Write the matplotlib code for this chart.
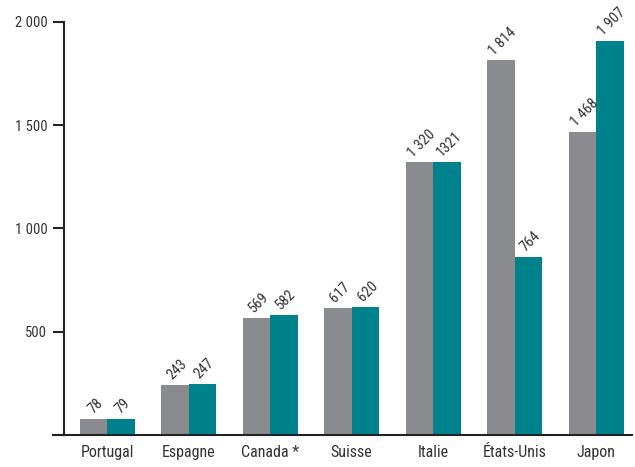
import matplotlib
matplotlib.use("Agg")
import matplotlib.pyplot as plt
from matplotlib import font_manager as fm
import numpy as np

categories = ["Portugal", "Espagne", "Canada *", "Suisse", "Italie", "États-Unis", "Japon"]
values_grey = [78, 243, 569, 617, 1320, 1814, 1468]
values_teal = [79, 247, 582, 620, 1321, 863, 1907]
labels_grey = ["78", "243", "569", "617", "1 320", "1 814", "1 468"]
labels_teal = ["79", "247", "582", "620", "1321", "764", "1 907"]
yticks = [0, 500, 1000, 1500, 2000]
ytick_labels = ["", "500", "1 000", "1 500", "2 000"]

# pick a condensed font if one is installed
names = {f.name for f in fm.fontManager.ttflist}
fprop = None
for c in ["Liberation Sans Narrow", "Roboto Condensed", "Open Sans Condensed",
          "Noto Sans Condensed", "DejaVu Sans Condensed"]:
    if c in names:
        fprop = fm.FontProperties(family=c)
        break
if fprop is None:
    cand = [f for f in fm.fontManager.ttflist
            if ("Condensed" in f.fname or "Narrow" in f.fname)
            and "Bold" not in f.fname and "Italic" not in f.fname
            and "Oblique" not in f.fname and "Light" not in f.fname]
    cand.sort(key=lambda f: (0 if "DejaVu" not in f.fname else 1, f.fname))
    if cand:
        fprop = fm.FontProperties(fname=cand[0].fname)
if fprop is None:
    fprop = fm.FontProperties(family=["Liberation Sans", "DejaVu Sans"])

grey = "#8a8b8f"
teal = "#00828c"
txt = "#333333"

fig = plt.figure(figsize=(6.35, 4.67), dpi=100)
ax = fig.add_axes([64/635, 32/467, (632-64)/635, (435-22)/467])

x = np.arange(len(categories))
w = 0.337
b1 = ax.bar(x - w/2, values_grey, w, color=grey)
b2 = ax.bar(x + w/2, values_teal, w, color=teal)

for bars, labs in ((b1, labels_grey), (b2, labels_teal)):
    for r, lab in zip(bars, labs):
        ax.annotate(lab, (r.get_x() + r.get_width()/2, r.get_height()),
                    xytext=(1.5, 2), textcoords="offset points",
                    ha="center", va="bottom", rotation=45,
                    fontproperties=fprop, fontsize=10.5, color=txt)

ax.set_xlim(-0.53, 6.44)
ax.set_ylim(0, 2000)
ax.set_yticks(yticks)
ax.set_yticklabels(ytick_labels)
ax.set_xticks(x)
ax.set_xticklabels(categories)
for lab in ax.get_yticklabels():
    lab.set_fontproperties(fprop)
    lab.set_fontsize(10.5)
    lab.set_color(txt)
for lab in ax.get_xticklabels():
    lab.set_fontproperties(fprop)
    lab.set_fontsize(11.5)
    lab.set_color(txt)
ax.tick_params(axis='x', length=0, pad=7)
ax.tick_params(axis='y', length=8, width=1.5, pad=4, color="#222222")
for s in ("top", "right"):
    ax.spines[s].set_visible(False)
for s in ("left", "bottom"):
    ax.spines[s].set_linewidth(1.5)
    ax.spines[s].set_color("#222222")
ax.spines['bottom'].set_bounds(-0.53 - 11/81.6, 6.44)
ax.spines['bottom'].set_clip_on(False)

fig.savefig("out.png", dpi=100)
